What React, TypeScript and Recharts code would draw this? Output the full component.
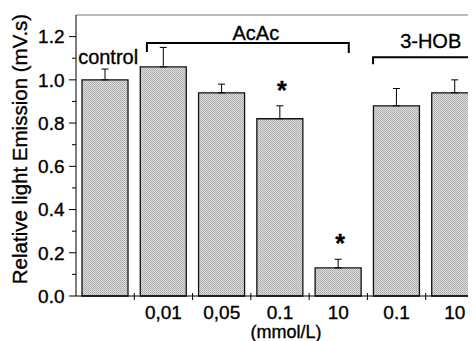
import {
  Bar,
  BarChart,
  ErrorBar,
  Label,
  LabelList,
  ReferenceDot,
  ReferenceLine,
  XAxis,
  YAxis,
} from "recharts";

const FONT = "'Liberation Sans', Arial, Helvetica, sans-serif";
const INK = { fill: "#000", stroke: "#000", strokeWidth: 0.35, fontFamily: FONT };

const categories = ["control", "AcAc 0,01", "AcAc 0,05", "AcAc 0.1", "AcAc 10", "3-HOB 0.1", "3-HOB 10"];
const tickLabels = ["", "0,01", "0,05", "0.1", "10", "0.1", "10"];
const values = [1.0, 1.06, 0.94, 0.82, 0.13, 0.88, 0.94];
const errors = [0.05, 0.09, 0.04, 0.06, 0.04, 0.08, 0.06];
const significant = [false, false, false, true, true, false, false];
const yTicks = [0, 0.1, 0.2, 0.3, 0.4, 0.5, 0.6, 0.7, 0.8, 0.9, 1.0, 1.1, 1.2];

const data = categories.map((name, i) => ({
  name,
  value: values[i],
  err: [0, errors[i]],
}));

const YTick = (props: any) => {
  const { x, y, payload } = props;
  const v = payload.value as number;
  const major = Math.round(v * 10) % 2 === 0;
  return (
    <g>
      <line x1={x - (major ? 7 : 4)} x2={x} y1={y} y2={y} stroke="#000" strokeWidth={1} />
      {major && (
        <text x={x - 11.5} y={y} dy="0.36em" textAnchor="end" fontSize={19} {...INK}>
          {v.toFixed(1)}
        </text>
      )}
    </g>
  );
};

const XTick = (props: any) => {
  const { x, y, payload } = props;
  const i = payload.index ?? props.index ?? 0;
  const half = payload.offset || 29.1;
  return (
    <g>
      <line x1={x + half} x2={x + half} y1={y - 3} y2={y + 4} stroke="#000" strokeWidth={1} />
      <text x={x} y={y + 22.5} textAnchor="middle" fontSize={19} {...INK}>
        {tickLabels[i]}
      </text>
    </g>
  );
};

const bracket = (label: string, left: number, right: number, dropL: number, dropR: number, labelDx: number, labelDy: number) =>
  (props: any) => {
    const { x1, y1, x2 } = props;
    const xa = x1 + left;
    const xb = x2 + right;
    const d = `M${xa},${y1 + dropL} V${y1} H${xb}` + (dropR ? ` V${y1 + dropR}` : "");
    return (
      <g>
        <path d={d} fill="none" stroke="#000" strokeWidth={2} />
        <text x={(x1 + x2) / 2 + labelDx} y={y1 + labelDy} textAnchor="middle" fontSize={20} {...INK}>
          {label}
        </text>
      </g>
    );
  };

const Star = (props: any) => {
  const { x, y, width, height, index } = props;
  if (!significant[index]) return null;
  const errPx = (height * errors[index]) / values[index];
  return (
    <text x={x + width / 2 + 2} y={y - errPx - 7} textAnchor="middle" fontSize={25} fontWeight="bold" {...INK}>
      *
    </text>
  );
};

const YLabel = (props: any) => {
  const vb = props.viewBox || { x: 0, y: 7, width: 68, height: 281 };
  const cx = vb.x + 18.5;
  const cy = vb.y + vb.height / 2 - 6.5;
  return (
    <text x={cx} y={cy} transform={`rotate(-90, ${cx}, ${cy})`} textAnchor="middle" fontSize={20.5} {...INK}>
      Relative light Emission (mV.s)
    </text>
  );
};

const XLabel = (props: any) => {
  const vb = props.viewBox || { x: 68, y: 288, width: 408, height: 30 };
  return (
    <text x={278} y={vb.y + 41.5} textAnchor="middle" fontSize={18} {...INK}>
      (mmol/L)
    </text>
  );
};

export default function App() {
  return (
    <div style={{ width: 468, height: 333, overflow: "hidden", background: "#fff" }}>
      <BarChart width={476} height={333} data={data} margin={{ top: 7, right: 0, bottom: 15, left: 0 }}>
        <defs>
          <pattern id="stipple" width="2" height="2" patternUnits="userSpaceOnUse">
            <rect width="2" height="2" fill="#dcdcdc" />
            <rect width="1" height="1" fill="#aaaaaa" />
            <rect x="1" y="1" width="1" height="1" fill="#b6b6b6" />
          </pattern>
        </defs>
        <XAxis
          dataKey="name"
          height={30}
          interval={0}
          tickSize={0}
          tickMargin={0}
          tick={<XTick />}
          axisLine={{ stroke: "#000", strokeWidth: 1 }}
        >
          <Label content={<XLabel />} />
        </XAxis>
        <YAxis
          width={68}
          domain={[0, 1.3]}
          ticks={yTicks}
          interval={0}
          tickSize={0}
          tickMargin={0}
          tick={<YTick />}
          axisLine={{ stroke: "#000", strokeWidth: 1 }}
        >
          <Label content={<YLabel />} />
        </YAxis>
        <ReferenceLine y={1.3} stroke="#777" strokeWidth={1} />
        <Bar dataKey="value" barSize={46} fill="url(#stipple)" stroke="#111" strokeWidth={1.3} isAnimationActive={false}>
          <ErrorBar dataKey="err" direction="y" width={3.5} stroke="#000" strokeWidth={1} />
          <LabelList dataKey="value" content={<Star />} />
        </Bar>
        <ReferenceLine
          segment={[
            { x: "AcAc 0,01", y: 1.17 },
            { x: "AcAc 10", y: 1.17 },
          ]}
          shape={bracket("AcAc", -16.5, 10.5, 9, 10, 5, -3)}
        />
        <ReferenceLine
          segment={[
            { x: "3-HOB 0.1", y: 1.105 },
            { x: "3-HOB 10", y: 1.105 },
          ]}
          shape={bracket("3-HOB", -23.5, 60, 7, 0, 5, -9)}
        />
        <ReferenceDot
          x="control"
          y={1.1}
          r={0}
          shape={(p: any) => (
            <text x={p.cx + 3} y={p.cy + 6} textAnchor="middle" fontSize={20} {...INK}>
              control
            </text>
          )}
        />
      </BarChart>
    </div>
  );
}
